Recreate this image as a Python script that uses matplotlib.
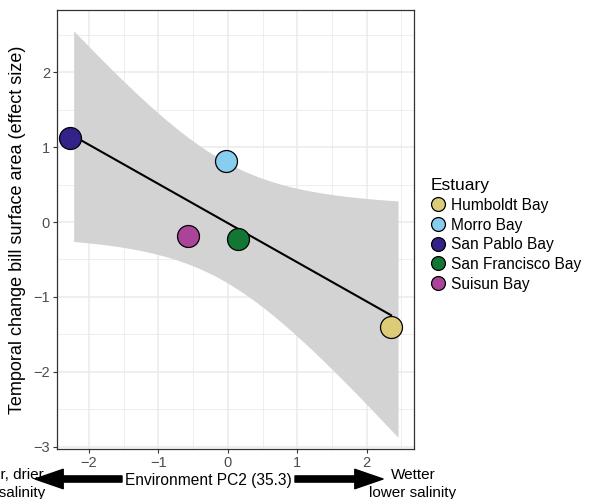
import matplotlib.pyplot as plt
import numpy as np
from matplotlib.lines import Line2D
from matplotlib.patches import FancyArrowPatch
from matplotlib.ticker import MultipleLocator

plt.rcParams['font.family'] = ['Liberation Sans', 'DejaVu Sans']

# Datos
estuaries = ["Humboldt Bay", "Morro Bay", "San Pablo Bay", "San Francisco Bay", "Suisun Bay"]
pc2 = [2.35, -0.02, -2.28, 0.15, -0.57]
effect = [-1.40, 0.82, 1.12, -0.23, -0.19]
colors = ["#DDCC77", "#88CCEE", "#332288", "#117733", "#AA4499"]
xticks = [-2, -1, 0, 1, 2]
yticks = [-3, -2, -1, 0, 1, 2]

W, H = 593, 499
fig = plt.figure(figsize=(W / 100, H / 100), dpi=100)
ax = fig.add_axes([57 / W, 1 - 449 / H, (414 - 57) / W, (449 - 10) / H])

# ajuste lineal con banda de confianza 95% (como geom_smooth(method="lm"))
x = np.array(pc2)
y = np.array(effect)
n = len(x)
b, a = np.polyfit(x, y, 1)
resid = y - (a + b * x)
s = np.sqrt(np.sum(resid ** 2) / (n - 2))
sxx = np.sum((x - x.mean()) ** 2)
t = 3.182  # t(0.975, df=3)
xs = np.linspace(-2.22, 2.45, 200)
pred = a + b * xs
se = s * np.sqrt(1 / n + (xs - x.mean()) ** 2 / sxx)
ax.fill_between(xs, pred - t * se, pred + t * se, color="#D3D3D3", lw=0, zorder=2)
xl = np.array([x.min(), x.max()])
ax.plot(xl, a + b * xl, color="black", lw=1.5, zorder=3)

for xi, yi, c in zip(pc2, effect, colors):
    ax.scatter(xi, yi, s=250, color=c, edgecolor="black", linewidth=0.9, zorder=4)

ax.set_xlim(-2.46, 2.68)
ax.set_ylim(-3.03, 2.83)
ax.set_xticks(xticks)
ax.set_yticks(yticks)
ax.set_xticklabels([str(v).replace("-", "\u2212") for v in xticks])
ax.set_yticklabels([str(v).replace("-", "\u2212") for v in yticks])
ax.xaxis.set_minor_locator(MultipleLocator(0.5))
ax.yaxis.set_minor_locator(MultipleLocator(0.5))
ax.grid(True, which="major", color="#EBEBEB", lw=1.1, zorder=0)
ax.grid(True, which="minor", color="#EBEBEB", lw=0.6, zorder=0)
ax.set_axisbelow(True)
ax.tick_params(which="major", length=3, color="#333333", labelsize=10.5, labelcolor="#4D4D4D", pad=2)
ax.tick_params(which="minor", length=0)
for sp in ax.spines.values():
    sp.set_color("#333333")
    sp.set_linewidth(0.9)

ax.set_ylabel("Temporal change bill surface area (effect size)", fontsize=13, labelpad=5)

# etiqueta del eje x con flechas
fig.text(208 / W, 1 - 480 / H, "Environment PC2 (35.3)", ha="center", va="center", fontsize=11.2)
arrow_style = "simple,tail_width=0.32,head_width=1.0,head_length=1.45"
fig.patches.append(FancyArrowPatch(
    (122 / W, 1 - 479 / H), (35 / W, 1 - 479 / H), transform=fig.transFigure,
    arrowstyle=arrow_style, mutation_scale=14, color="black", shrinkA=0, shrinkB=0))
fig.patches.append(FancyArrowPatch(
    (295 / W, 1 - 479 / H), (383 / W, 1 - 479 / H), transform=fig.transFigure,
    arrowstyle=arrow_style, mutation_scale=14, color="black", shrinkA=0, shrinkB=0))
fig.text(45 / W, 1 - 484 / H, "Warmer, drier\nhigher salinity", ha="right", va="center",
         multialignment="center", fontsize=11, linespacing=1.45)
fig.text(413 / W, 1 - 484 / H, "Wetter\nlower salinity", ha="center", va="center",
         multialignment="center", fontsize=11, linespacing=1.45)

# leyenda
handles = [Line2D([], [], marker="o", ls="", markersize=10, markerfacecolor=c,
                  markeredgecolor="black", markeredgewidth=0.9) for c in colors]
fig.legend(handles, estuaries, title="Estuary", loc="upper left",
           bbox_to_anchor=(424 / W, 1 - 172 / H), frameon=False, fontsize=11.2,
           title_fontsize=12.5, handletextpad=0.35, labelspacing=0.3,
           handlelength=1.0, borderaxespad=0, alignment="left")

fig.savefig("out.png", dpi=100)
